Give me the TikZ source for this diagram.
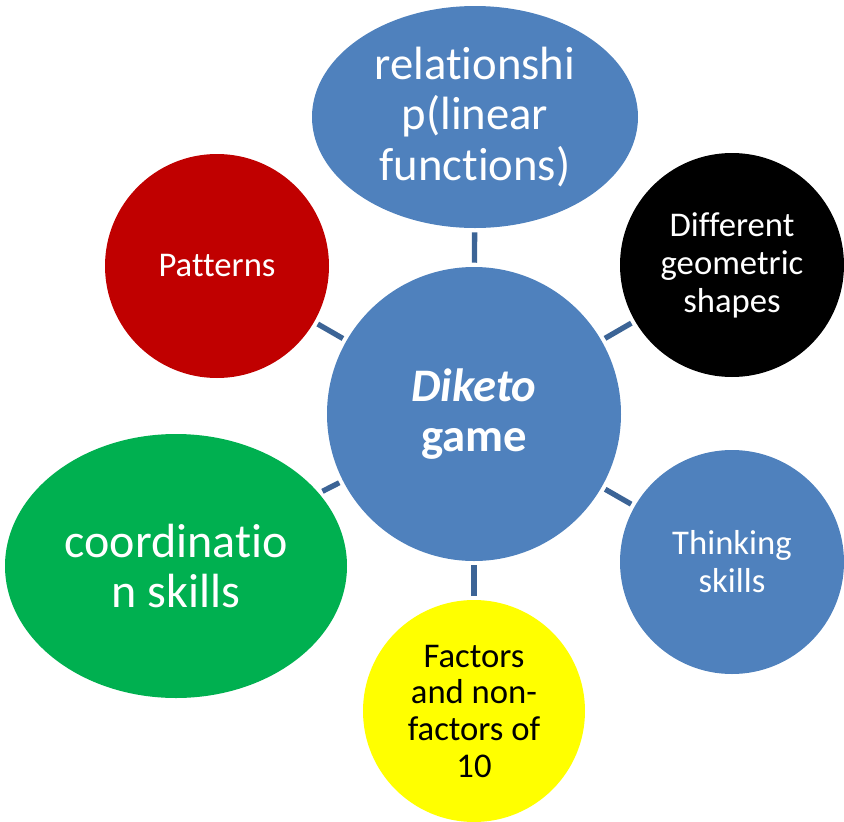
\documentclass[tikz,border=0pt]{standalone}
\usepackage{fontspec}
\setmainfont{Carlito}[Ligatures=NoCommon]
\usepackage{xcolor}
\usetikzlibrary{shapes.geometric}
\definecolor{smblue}{HTML}{4F81BD}
\definecolor{smline}{HTML}{3C6496}
\definecolor{smred}{HTML}{C00000}
\definecolor{smgreen}{HTML}{00B050}
\definecolor{smyellow}{HTML}{FFFF00}

\begin{document}
\begin{tikzpicture}[x=0.75pt,y=-0.75pt,
		bub/.style={ellipse,inner sep=0pt,align=center,text=white},
		small/.style={font=\fontsize{26}{28.5}\selectfont},
		conn/.style={smline,line width=4pt,shorten >=3pt,shorten <=3pt}]
	\useasboundingbox (0,0) rectangle (844,822);
	\node[bub,fill=smblue,minimum width=220.5pt,minimum height=220.5pt,
		font=\bfseries\fontsize{35}{38}\selectfont] (hub) at (474,414) {\textit{Diketo}\\game};
	\node[bub,fill=smblue,minimum width=244.5pt,minimum height=166.5pt,
		font=\fontsize{35}{38}\selectfont] (rel) at (475,117) {relationshi\\p(linear\\functions)};
	\node[bub,small,fill=smred,minimum size=168pt] (pat) at (217,266) {Patterns};
	\node[bub,small,fill=black,minimum size=168pt] (geo) at (732,265) {Different\\geometric\\shapes};
	\node[bub,small,fill=smblue,minimum size=168pt] (think) at (732,562) {Thinking\\skills};
	\node[bub,small,fill=smyellow,text=black,minimum size=166.5pt,
		font=\fontsize{26}{27.5}\selectfont] (fac) at (474,711) {Factors\\and non-\\factors of\\10};
	\node[bub,fill=smgreen,minimum width=256.5pt,minimum height=198pt,
		font=\fontsize{36}{37}\selectfont] (coord) at (176,566) {coordinatio\\n skills};
	% connectors
	\foreach \s in {rel,geo,think,fac,coord,pat}
		\draw[conn] (hub) -- (\s);
\end{tikzpicture}
\end{document}
